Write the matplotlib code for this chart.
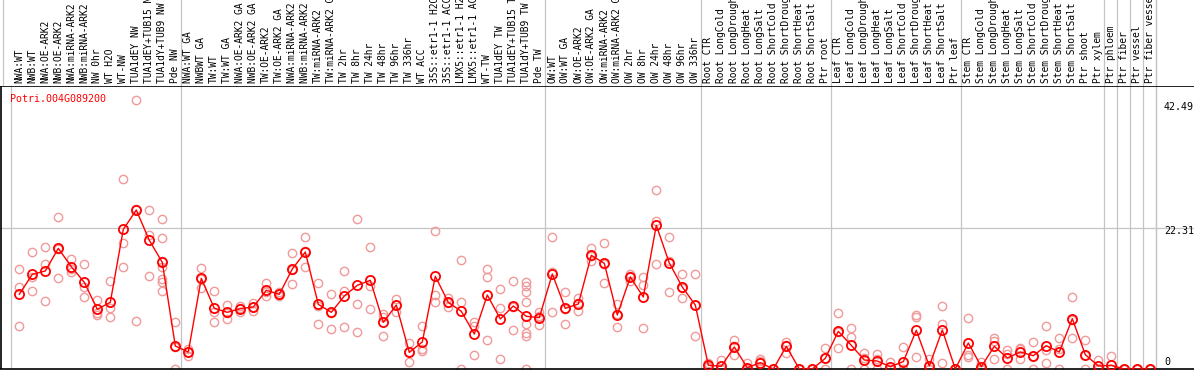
import matplotlib
matplotlib.use('Agg')
import matplotlib.pyplot as plt
import numpy as np

gene = 'Potri.004G089200'

samples = ['NWA:WT', 'NWB:WT', 'NWA:OE-ARK2', 'NWB:OE-ARK2', 'NWA:miRNA-ARK2', 'NWB:miRNA-ARK2',
           'NW 0hr', 'WT H2O', 'WT-NW', 'TUA1dEY NW', 'TUA1dEY+TUB15 NW', 'TUA1dY+TUB9 NW', 'Pde NW',
           'NWA:WT GA', 'NWBWT GA', 'TW:WT', 'TW:WT GA', 'NWA:OE-ARK2 GA', 'NWB:OE-ARK2 GA',
           'TW:OE-ARK2', 'TW:OE-ARK2 GA', 'NWA:miRNA-ARK2 GA', 'NWB:miRNA-ARK2 GA', 'TW:miRNA-ARK2',
           'TW:miRNA-ARK2 GA', 'TW 2hr', 'TW 8hr', 'TW 24hr', 'TW 48hr', 'TW 96hr', 'TW 336hr',
           'WT ACC', '35S::etr1-1 H2O', '35S::etr1-1 ACC', 'LMX5::etr1-1 H2O', 'LMX5::etr1-1 ACC',
           'WT-TW', 'TUA1dEY TW', 'TUA1dEY+TUB15 TW', 'TUA1dY+TUB9 TW', 'Pde TW',
           'OW:WT', 'OW:WT GA', 'OW:OE-ARK2', 'OW:OE-ARK2 GA', 'OW:miRNA-ARK2', 'OW:miRNA-ARK2 GA',
           'OW 2hr', 'OW 8hr', 'OW 24hr', 'OW 48hr', 'OW 96hr', 'OW 336hr',
           'Root CTR', 'Root LongCold', 'Root LongDrought', 'Root LongHeat', 'Root LongSalt',
           'Root ShortCold', 'Root ShortDrought', 'Root ShortHeat', 'Root ShortSalt', 'Ptr root',
           'Leaf CTR', 'Leaf LongCold', 'Leaf LongDrought', 'Leaf LongHeat', 'Leaf LongSalt',
           'Leaf ShortCold', 'Leaf ShortDrought', 'Leaf ShortHeat', 'Leaf ShortSalt', 'Ptr leaf',
           'Stem CTR', 'Stem LongCold', 'Stem LongDrought', 'Stem LongHeat', 'Stem LongSalt',
           'Stem ShortCold', 'Stem ShortDrought', 'Stem ShortHeat', 'Stem ShortSalt', 'Ptr shoot',
           'Ptr xylem', 'Ptr phloem', 'Ptr fiber', 'Ptr vessel', 'Ptr fiber vessel']

# sample count of each block between the grey separators
groups = [13, 28, 12, 10, 10, 11, 1, 1, 1, 1, 1]

means = [11.78, 14.93, 15.46, 19.03, 16.14, 13.67, 9.41, 10.52, 22.03, 25.08, 20.3, 16.82, 3.63,
         2.68, 14.3, 9.57, 8.94, 9.52, 9.78, 12.41, 11.78, 15.77, 18.45, 10.2, 8.94, 11.51, 13.2,
         13.99, 7.36, 10.09, 2.63, 4.26, 14.62, 10.52, 9.1, 5.52, 11.67, 7.89, 9.94, 8.31, 8.1,
         14.98, 9.57, 10.25, 17.93, 16.67, 8.52, 14.51, 11.36, 22.66, 16.72, 12.93, 10.09,
         0.6, 0.42, 3.47, 0.2, 1.0, 0.0, 3.58, 0.0, 0.0, 1.68,
         5.94, 3.73, 1.42, 1.26, 0.37, 1.16, 6.1, 0.47, 6.15, 0.0,
         4.1, 0.37, 3.58, 1.74, 2.68, 2.1, 3.68, 2.68, 7.94, 2.26, 0.47,
         0.58, 0.0, 0.0, 0.0]

reps = [[15.72, 12.93, 6.78], [18.4, 14.46, 12.3], [19.19, 16.56, 10.67], [23.92, 18.87, 14.3],
        [17.35, 15.72, 15.35], [16.5, 12.99, 11.36], [10.88, 8.88, 8.57], [13.88, 9.67, 8.2],
        [29.92, 19.82, 16.04], [42.49, 25.2, 7.52], [25.03, 21.08, 14.62],
        [23.6, 20.6, 17.09, 16.14, 14.2, 13.77, 12.3], [7.36, 3.5, 0.0],
        [3.2, 2.63, 2.05], [15.93, 14.2, 12.78], [12.3, 9.04, 7.36], [10.09, 8.9, 7.83],
        [9.99, 9.63, 8.94], [10.36, 9.78, 9.2], [13.56, 12.2, 11.46], [12.1, 11.8, 11.5],
        [18.3, 15.66, 13.35], [20.77, 18.54, 16.04], [13.51, 10.0, 7.1], [11.78, 8.78, 6.26],
        [15.46, 12.35, 6.62], [23.6, 10.2, 5.78], [19.19, 13.14, 9.41], [8.68, 8.25, 5.15],
        [11.09, 10.14, 9.04], [4.1, 2.69, 1.1], [6.78, 3.2, 2.84], [21.71, 11.67, 10.52],
        [11.25, 10.48, 9.83], [17.19, 10.52, 0.0], [7.36, 6.78, 2.16], [15.77, 14.46, 4.52],
        [12.57, 9.57, 1.53], [13.88, 9.84, 6.1],
        [13.72, 13.14, 12.15, 10.52, 7.15, 5.68, 5.15, 0.0], [9.04, 8.37, 6.89],
        [20.77, 15.23, 8.94], [12.09, 9.52, 7.1], [11.25, 10.4, 9.1], [19.03, 17.78, 16.98],
        [19.87, 16.63, 13.51], [10.25, 8.74, 6.57], [15.04, 14.61, 13.88], [14.51, 13.2, 6.47],
        [28.18, 23.34, 16.5], [20.77, 17.09, 12.15], [14.93, 12.71, 11.15], [14.93, 10.13, 5.21],
        [1.0, 0.45, 0.3], [1.4, 0.0, 0.0], [4.52, 3.63, 2.26], [0.9, 0.0, 0.0], [1.58, 1.26, 0.2],
        [0.0, 0.0, 0.0], [4.31, 3.86, 2.57], [0.0, 0.0, 0.0], [0.0, 0.0, 0.0], [3.26, 1.78, 0.0],
        [8.78, 5.78, 3.26], [6.41, 5.0, 0.0], [2.47, 1.79, 0.0], [2.31, 1.6, 0.0], [1.1, 0.0, 0.0],
        [3.5, 0.0, 0.0], [8.52, 8.2, 1.84], [1.5, 0.0, 0.0], [9.94, 7.1, 1.0], [0.0, 0.0, 0.0],
        [8.0, 2.16, 1.95], [1.1, 0.0, 0.0], [4.94, 4.42, 1.63], [2.94, 2.4, 0.0], [3.36, 3.1, 1.58],
        [4.21, 2.09, 0.0], [6.73, 2.94, 1.0], [4.94, 3.1, 0.0], [11.3, 7.68, 4.84],
        [4.52, 2.26, 0.0], [1.42, 0.0, 0.0], [2.05, 0.0, 0.0], [0.0, 0.0, 0.0], [0.0, 0.0, 0.0],
        [0.0, 0.0, 0.0]]

ymax_label = 42.49
ymid_label = 22.31

W, H = 1194, 370
fig = plt.figure(figsize=(W / 100, H / 100), dpi=100)
head_px = 86
x0 = -19.3 / 13
xlim = (x0, x0 + W / 13)
grey = '#c4c4c4'
mono = 'DejaVu Sans Mono'

ax = fig.add_axes([0, 1 / H, 1, (H - head_px - 1) / H])
hd = fig.add_axes([0, (H - head_px) / H, 1, head_px / H])

x = np.arange(len(samples))
seps = np.cumsum(groups)[:-1] - 1 + 0.415
seps = np.concatenate([seps, [len(samples) - 1 + 0.415]])

for a in (ax, hd):
    a.set_xlim(*xlim)
    for s in seps:
        a.axvline(s, color=grey, lw=0.9, zorder=0)
    a.set_xticks([])
    a.set_yticks([])
hd.axvline(x0 + 3 / 13, color=grey, lw=0.9, zorder=0)
ax.axvline(-0.65, color=grey, lw=0.9, zorder=0)

hd.set_ylim(0, 1)
for sp in hd.spines.values():
    sp.set_visible(False)
for i, name in enumerate(samples):
    hd.text(i, 0.035, name, rotation=90, ha='center', va='bottom', fontsize=6.9,
            family=mono, color='black')

# y scale: 0 at bottom, ~6.34 px per unit
ax.set_ylim(0, (H - head_px - 1) / 6.34)
ax.axhline(ymid_label, color=grey, lw=0.9, zorder=0)
for sp in ('left', 'right'):
    ax.spines[sp].set_visible(False)
ax.spines['top'].set_linewidth(1.2)
ax.spines['bottom'].set_linewidth(1.2)
ax.axvline(x0 + 1 / 13, color='black', lw=1.2)

for i, r in enumerate(reps):
    ax.plot([i] * len(r), r, 'o', ms=6.0, mfc='none', mec='#f09a9a', mew=1.0, zorder=2)

ax.plot(x, means, '-', color='red', lw=1.0, zorder=3)
ax.plot(x, means, 'o', ms=6.6, mfc='none', mec='red', mew=1.3, zorder=4)

yt = ax.get_yaxis_transform()
ax.text(0.008, 0.955, gene, transform=ax.transAxes, color='red', fontsize=7.2,
        family=mono, ha='left', va='center')
ax.text(1.0, ymax_label - 1.2, '%.2f' % ymax_label, color='black', fontsize=7.2,
        family=mono, ha='right', va='center', transform=yt)
ax.text(1.0, ymid_label - 0.6, '%.2f' % ymid_label, color='black', fontsize=7.2,
        family=mono, ha='right', va='center', transform=yt)
ax.text(0.978, 1.1, '0', color='black', fontsize=7.2, family=mono, ha='center',
        va='center', transform=yt)

fig.savefig('out.png', dpi=100)
